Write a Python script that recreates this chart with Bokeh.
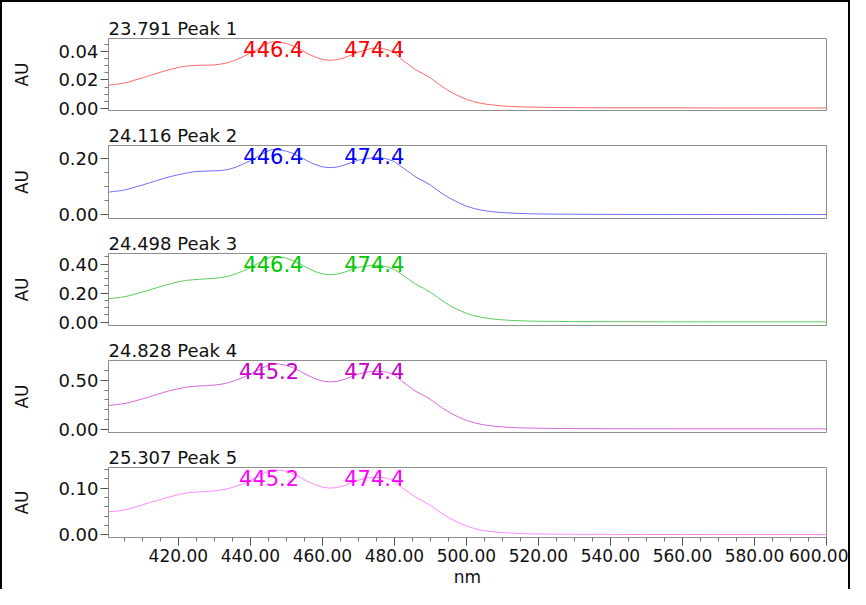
from bokeh.plotting import figure
from bokeh.layouts import column
from bokeh.models import FixedTicker, PrintfTickFormatter, Range1d
from bokeh.core.properties import value
from bokeh.embed import file_html
from bokeh.resources import INLINE

# ---------------- data ----------------
wavelength = [400, 402, 404, 406, 408, 410, 412, 414, 416, 418,
              420, 422, 424, 426, 428, 430, 432, 434, 436, 438,
              440, 442, 444, 446, 448, 450, 452, 454, 456, 458,
              460, 462, 464, 466, 468, 470, 472, 474, 476, 478,
              480, 482, 484, 486, 488, 490, 492, 494, 496, 498,
              500, 502, 504, 506, 508, 510, 512, 514, 516, 518,
              520, 525, 530, 540, 550, 560, 570, 580, 590, 600]

peak1 = [0.0162, 0.0167, 0.0174, 0.0183, 0.0200, 0.0214, 0.0230, 0.0246, 0.0262, 0.0276,
         0.0288, 0.0297, 0.0302, 0.0304, 0.0305, 0.0306, 0.0313, 0.0324, 0.0342, 0.0365,
         0.0390, 0.0418, 0.0449, 0.0470, 0.0467, 0.0458, 0.0439, 0.0414, 0.0385, 0.0362,
         0.0345, 0.0339, 0.0343, 0.0356, 0.0376, 0.0397, 0.0412, 0.0424, 0.0424, 0.0415,
         0.0395, 0.0346, 0.0308, 0.0270, 0.0244, 0.0214, 0.0176, 0.0141, 0.0110, 0.0085,
         0.0063, 0.0047, 0.0035, 0.0027, 0.0021, 0.0016, 0.0013, 0.0011, 0.0009, 0.0008,
         0.0007, 0.0005, 0.0004, 0.0003, 0.0003, 0.0003, 0.0002, 0.0002, 0.0002, 0.0002]

peak2 = [0.080, 0.083, 0.086, 0.091, 0.099, 0.106, 0.114, 0.122, 0.130, 0.137,
         0.143, 0.148, 0.153, 0.155, 0.156, 0.157, 0.158, 0.162, 0.170, 0.181,
         0.193, 0.207, 0.222, 0.233, 0.231, 0.227, 0.218, 0.205, 0.191, 0.179,
         0.171, 0.168, 0.170, 0.177, 0.186, 0.195, 0.199, 0.204, 0.204, 0.199,
         0.190, 0.171, 0.153, 0.134, 0.121, 0.106, 0.087, 0.070, 0.055, 0.042,
         0.031, 0.023, 0.017, 0.013, 0.010, 0.0082, 0.0065, 0.0054, 0.0044, 0.0037,
         0.0033, 0.0026, 0.0021, 0.0016, 0.0014, 0.0013, 0.0012, 0.0012, 0.0011, 0.0011]

peak3 = [0.160, 0.165, 0.171, 0.180, 0.194, 0.207, 0.222, 0.237, 0.252, 0.266,
         0.278, 0.287, 0.292, 0.296, 0.299, 0.302, 0.307, 0.317, 0.333, 0.353,
         0.376, 0.403, 0.430, 0.452, 0.449, 0.441, 0.423, 0.398, 0.371, 0.348,
         0.333, 0.327, 0.331, 0.343, 0.361, 0.377, 0.386, 0.392, 0.391, 0.382,
         0.362, 0.330, 0.296, 0.260, 0.235, 0.206, 0.170, 0.136, 0.106, 0.081,
         0.061, 0.045, 0.034, 0.026, 0.020, 0.016, 0.0127, 0.0104, 0.0086, 0.0072,
         0.0063, 0.0050, 0.0041, 0.0032, 0.0027, 0.0025, 0.0023, 0.0023, 0.0022, 0.0021]

peak4 = [0.240, 0.247, 0.256, 0.269, 0.289, 0.309, 0.331, 0.354, 0.377, 0.397,
         0.414, 0.428, 0.437, 0.442, 0.446, 0.451, 0.460, 0.476, 0.500, 0.530,
         0.564, 0.600, 0.637, 0.669, 0.666, 0.652, 0.625, 0.589, 0.549, 0.515,
         0.492, 0.483, 0.488, 0.507, 0.535, 0.563, 0.582, 0.592, 0.592, 0.582,
         0.555, 0.492, 0.438, 0.385, 0.348, 0.304, 0.251, 0.201, 0.157, 0.120,
         0.090, 0.067, 0.050, 0.038, 0.029, 0.023, 0.019, 0.015, 0.013, 0.011,
         0.0094, 0.0074, 0.0060, 0.0047, 0.0040, 0.0037, 0.0034, 0.0034, 0.0032, 0.0031]

peak5 = [0.049, 0.050, 0.052, 0.055, 0.059, 0.064, 0.069, 0.073, 0.078, 0.082,
         0.086, 0.089, 0.091, 0.092, 0.093, 0.094, 0.096, 0.099, 0.104, 0.109,
         0.116, 0.124, 0.132, 0.139, 0.138, 0.136, 0.130, 0.122, 0.114, 0.107,
         0.102, 0.100, 0.101, 0.105, 0.111, 0.117, 0.121, 0.123, 0.123, 0.121,
         0.115, 0.102, 0.091, 0.080, 0.072, 0.063, 0.052, 0.042, 0.033, 0.025,
         0.019, 0.014, 0.010, 0.0079, 0.0061, 0.0049, 0.0039, 0.0032, 0.0026, 0.0022,
         0.0019, 0.0015, 0.0013, 0.0010, 0.0008, 0.0008, 0.0007, 0.0007, 0.0007, 0.0007]

series = [peak1, peak2, peak3, peak4, peak5]
titles = ["23.791 Peak 1", "24.116 Peak 2", "24.498 Peak 3", "24.828 Peak 4", "25.307 Peak 5"]
label_texts = [["446.4", "474.4"], ["446.4", "474.4"], ["446.4", "474.4"],
               ["445.2", "474.4"], ["445.2", "474.4"]]
label_nm = [[446.4, 474.4], [446.4, 474.4], [446.4, 474.4], [445.2, 474.4], [445.2, 474.4]]

y_low = [-0.0016, -0.013, -0.023, -0.034, -0.0056]
y_high = [0.0493, 0.247, 0.473, 0.702, 0.144]
y_major = [[0, 0.02, 0.04], [0, 0.2], [0, 0.2, 0.4], [0, 0.5], [0, 0.1]]
y_minor = [[0.005, 0.01, 0.015, 0.025, 0.03, 0.035, 0.045],
           [0.05, 0.1, 0.15],
           [0.05, 0.1, 0.15, 0.25, 0.3, 0.35, 0.45],
           [0.1, 0.2, 0.3, 0.4, 0.6],
           [0.02, 0.04, 0.06, 0.08, 0.12, 0.14]]

x_low, x_high = 400.6, 600
x_major = [420, 440, 460, 480, 500, 520, 540, 560, 580, 600]
x_minor = [405, 410, 415, 425, 430, 435, 445, 450, 455, 465, 470, 475, 485, 490, 495,
           505, 510, 515, 525, 530, 535, 545, 550, 555, 565, 570, 575, 585, 590, 595]

line_colors = ["#ff6a6a", "#7070ff", "#5ccc5c", "#d868d8", "#ff88ff"]
text_colors = ["#ff0000", "#0000ff", "#00c800", "#c800c8", "#ff00ff"]

# ---------------- layout ----------------
FONT = "DejaVu Sans"
heights = [118, 108, 107, 107, 147]
tops = [36, 25, 25, 25, 25]
bottoms = [10, 10, 10, 10, 50]

x_range = Range1d(x_low, x_high)
figs = []
for i in range(5):
    p = figure(width=846, height=heights[i], x_range=x_range,
               y_range=Range1d(y_low[i], y_high[i]),
               output_backend="svg", toolbar_location=None,
               min_border_left=106, min_border_right=22,
               min_border_top=tops[i], min_border_bottom=bottoms[i])
    p.title.text = titles[i]
    p.title.text_font = FONT
    p.title.text_font_size = "18px"
    p.title.text_font_style = "normal"
    p.title.text_color = "#111111"
    p.title.align = "left"
    p.title.standoff = 0
    p.title.offset = 0
    p.outline_line_color = "#8f8f8f"
    p.outline_line_width = 1
    p.grid.visible = False
    p.background_fill_color = "white"
    p.border_fill_color = "white"

    p.line(wavelength, series[i], line_color=line_colors[i], line_width=1)
    p.text(x=label_nm[i], y=[y_high[i], y_high[i]], text=label_texts[i],
           text_align="center", text_baseline="top", text_color=text_colors[i],
           text_font=value(FONT), text_font_size="21px", y_offset=2)

    ya = p.yaxis[0]
    ya.ticker = FixedTicker(ticks=y_major[i], minor_ticks=y_minor[i])
    ya.formatter = PrintfTickFormatter(format="%.2f")
    ya.axis_label = "AU"
    ya.axis_label_text_font = FONT
    ya.axis_label_text_font_size = "17px"
    ya.axis_label_text_font_style = "normal"
    ya.axis_label_text_color = "#111111"
    ya.axis_label_standoff = 23
    ya.major_label_text_font = FONT
    ya.major_label_text_font_size = "18px"
    ya.major_label_text_color = "#111111"
    ya.major_label_standoff = 2
    ya.major_tick_out = 8
    ya.major_tick_in = 0
    ya.minor_tick_out = 4
    ya.minor_tick_in = 0
    ya.axis_line_color = "#8f8f8f"
    ya.major_tick_line_color = "#555555"
    ya.minor_tick_line_color = "#777777"

    xa = p.xaxis[0]
    if i < 4:
        xa.visible = False
    else:
        xa.ticker = FixedTicker(ticks=x_major, minor_ticks=x_minor)
        xa.formatter = PrintfTickFormatter(format="%.2f")
        xa.axis_label = "nm"
        xa.axis_label_text_font = FONT
        xa.axis_label_text_font_size = "17px"
        xa.axis_label_text_font_style = "normal"
        xa.axis_label_text_color = "#111111"
        xa.axis_label_standoff = 2
        xa.major_label_text_font = FONT
        xa.major_label_text_font_size = "17px"
        xa.major_label_text_color = "#111111"
        xa.major_label_standoff = 3
        xa.major_tick_out = 8
        xa.major_tick_in = 0
        xa.minor_tick_out = 4
        xa.minor_tick_in = 0
        xa.axis_line_color = "#8f8f8f"
        xa.major_tick_line_color = "#555555"
        xa.minor_tick_line_color = "#777777"
    figs.append(p)

layout = column(*figs, spacing=0,
                styles={"border-top": "2px solid black", "border-left": "2px solid black",
                        "border-right": "2px solid black"})

open("out.html", "w").write(file_html(layout, INLINE))
